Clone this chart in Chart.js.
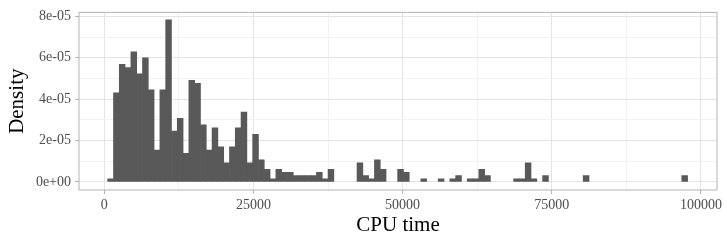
<!DOCTYPE html>
<html>
<head>
<meta charset="utf-8">
<script src="https://cdn.jsdelivr.net/npm/chart.js@4"></script>
<style>
  body { margin: 0; background: #fff; }
  #wrap { width: 727px; height: 242px; }
</style>
</head>
<body>
<div id="wrap"><canvas id="grafico"></canvas></div>
<script>
// histogram bins (CPU time) and density per bin
const binStart = 570;
const binWidth = 972;
const density = [
  0.15e-5, 4.30e-5, 5.68e-5, 5.53e-5, 6.29e-5, 5.22e-5, 5.99e-5, 4.45e-5, 1.54e-5, 4.45e-5,
  7.83e-5, 2.46e-5, 3.07e-5, 1.38e-5, 4.91e-5, 4.76e-5, 2.76e-5, 1.54e-5, 2.61e-5, 1.69e-5,
  0.92e-5, 1.69e-5, 2.61e-5, 3.38e-5, 0.92e-5, 2.30e-5, 1.07e-5, 0.61e-5, 0.15e-5, 0.61e-5,
  0.46e-5, 0.46e-5, 0.31e-5, 0.31e-5, 0.31e-5, 0.31e-5, 0.46e-5, 0.15e-5, 0.61e-5, 0,
  0, 0, 0, 0.92e-5, 0.31e-5, 0.15e-5, 1.07e-5, 0.61e-5, 0, 0,
  0.61e-5, 0.46e-5, 0, 0, 0.15e-5, 0, 0, 0.15e-5, 0, 0.15e-5,
  0.31e-5, 0, 0.15e-5, 0.15e-5, 0.61e-5, 0.31e-5, 0, 0, 0, 0,
  0.15e-5, 0.15e-5, 0.92e-5, 0.15e-5, 0, 0.31e-5, 0, 0, 0, 0,
  0, 0, 0.31e-5, 0, 0, 0, 0, 0, 0, 0,
  0, 0, 0, 0, 0, 0, 0, 0, 0, 0.31e-5
];

const xMajor = [0, 25000, 50000, 75000, 100000];
const xMinor = [12500, 37500, 62500, 87500];
const xTickLabels = ['0', '25000', '50000', '75000', '100000'];
const yMajor = [0, 2e-5, 4e-5, 6e-5, 8e-5];
const yMinor = [1e-5, 3e-5, 5e-5, 7e-5];
const yTickLabels = ['0e+00', '2e-05', '4e-05', '6e-05', '8e-05'];

// empty bins get no bar at all
const points = density.map((d, i) => ({ x: binStart + binWidth * (i + 0.5), y: d === 0 ? null : d }));

const isMajor = (list, v) => list.some(m => Math.abs(m - v) < 1e-9);
const gridColor = list => ctx => ctx.tick && isMajor(list, ctx.tick.value) ? '#e4e4e4' : '#f1f1f1';
const tickColor = list => ctx => ctx.tick && isMajor(list, ctx.tick.value) ? '#b3b3b3' : 'rgba(0,0,0,0)';

const panelBorder = {
  id: 'panelBorder',
  afterDraw(chart) {
    const a = chart.chartArea, c = chart.ctx;
    c.save();
    c.strokeStyle = '#b3b3b3';
    c.lineWidth = 1;
    c.strokeRect(a.left, a.top, a.right - a.left, a.bottom - a.top);
    c.restore();
  }
};

const ctx = document.getElementById('grafico').getContext('2d');
new Chart(ctx, {
  type: 'bar',
  data: {
    datasets: [{
      label: 'Density',
      data: points,
      backgroundColor: '#595959',
      borderWidth: 0,
      barPercentage: 1,
      categoryPercentage: 1
    }]
  },
  options: {
    responsive: true,
    maintainAspectRatio: false,
    animation: false,
    layout: { padding: { top: 9.5, right: 10, left: 0, bottom: 0 } },
    plugins: { legend: { display: false }, tooltip: { enabled: false } },
    scales: {
      x: {
        type: 'linear',
        min: -4240,
        max: 102700,
        offset: false,
        afterBuildTicks: s => { s.ticks = xMajor.concat(xMinor).map(v => ({ value: v })); },
        afterFit: s => { s.height = 52; },
        ticks: {
          autoSkip: false,
          maxRotation: 0,
          padding: 3,
          color: '#4d4d4d',
          font: { family: 'Liberation Serif', size: 14 },
          callback: v => { const i = xMajor.indexOf(v); return i >= 0 ? xTickLabels[i] : ''; }
        },
        grid: { offset: false, color: gridColor(xMajor), tickColor: tickColor(xMajor), tickLength: 4 },
        border: { display: false },
        title: {
          display: true,
          text: 'CPU time',
          color: '#000',
          font: { family: 'Liberation Serif', size: 21 },
          padding: { top: 0, bottom: 4 }
        }
      },
      y: {
        type: 'linear',
        min: -0.39e-5,
        max: 8.19e-5,
        afterBuildTicks: s => { s.ticks = yMajor.concat(yMinor).map(v => ({ value: v })); },
        afterFit: s => { s.width = 79; },
        ticks: {
          autoSkip: false,
          padding: 4,
          color: '#4d4d4d',
          font: { family: 'Liberation Serif', size: 14 },
          callback: v => { const i = yMajor.findIndex(m => Math.abs(m - v) < 1e-12); return i >= 0 ? yTickLabels[i] : ''; }
        },
        grid: { color: gridColor(yMajor), tickColor: tickColor(yMajor), tickLength: 4 },
        border: { display: false },
        title: {
          display: true,
          text: 'Density',
          color: '#000',
          font: { family: 'Liberation Serif', size: 21 },
          padding: { top: 5, bottom: 0 }
        }
      }
    }
  },
  plugins: [panelBorder]
});
</script>
</body>
</html>
